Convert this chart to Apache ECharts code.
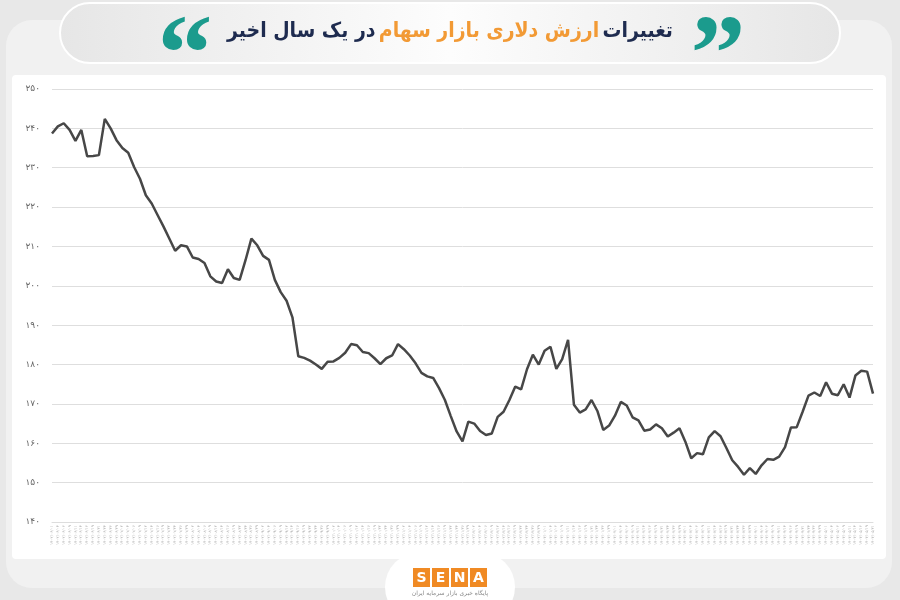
<!DOCTYPE html>
<html>
<head>
<meta charset="utf-8">
<script src="https://cdn.jsdelivr.net/npm/echarts@6/dist/echarts.min.js"></script>
<style>html,body{margin:0;padding:0;background:#e8e8e8;}#c{width:900px;height:600px;}</style>
</head>
<body>
<div id="c"></div>
<script>
var titleParts = ['در یک سال اخیر', 'ارزش دلاری بازار سهام', 'تغییرات'];
var yTicks = [140, 150, 160, 170, 180, 190, 200, 210, 220, 230, 240, 250];
var dates = [
'1402/06/01','1402/06/04','1402/06/06','1402/06/09','1402/06/11','1402/06/14','1402/06/16','1402/06/19','1402/06/21','1402/06/24','1402/06/26','1402/06/29',
'1402/07/02','1402/07/04','1402/07/07','1402/07/09','1402/07/12','1402/07/14','1402/07/17','1402/07/19','1402/07/22','1402/07/24','1402/07/27','1402/07/29',
'1402/08/02','1402/08/04','1402/08/07','1402/08/09','1402/08/12','1402/08/14','1402/08/17','1402/08/19','1402/08/22','1402/08/24','1402/08/27','1402/08/29',
'1402/09/02','1402/09/04','1402/09/07','1402/09/09','1402/09/12','1402/09/14','1402/09/17','1402/09/19','1402/09/22','1402/09/24','1402/09/27','1402/09/29',
'1402/10/02','1402/10/04','1402/10/07','1402/10/09','1402/10/12','1402/10/14','1402/10/17','1402/10/19','1402/10/22','1402/10/24','1402/10/27','1402/10/29',
'1402/11/02','1402/11/04','1402/11/07','1402/11/09','1402/11/12','1402/11/14','1402/11/17','1402/11/19','1402/11/22','1402/11/24','1402/11/27','1402/11/29',
'1402/12/02','1402/12/04','1402/12/07','1402/12/09','1402/12/12','1402/12/14','1402/12/17','1402/12/19','1402/12/22','1402/12/24','1402/12/27','1402/12/29',
'1403/01/01','1403/01/04','1403/01/06','1403/01/09','1403/01/11','1403/01/14','1403/01/16','1403/01/19','1403/01/21','1403/01/24','1403/01/26','1403/01/29',
'1403/02/01','1403/02/04','1403/02/06','1403/02/09','1403/02/11','1403/02/14','1403/02/16','1403/02/19','1403/02/21','1403/02/24','1403/02/26','1403/02/29',
'1403/03/01','1403/03/04','1403/03/06','1403/03/09','1403/03/11','1403/03/14','1403/03/16','1403/03/19','1403/03/21','1403/03/24','1403/03/26','1403/03/29',
'1403/04/01','1403/04/04','1403/04/06','1403/04/09','1403/04/11','1403/04/14','1403/04/16','1403/04/19','1403/04/21','1403/04/24','1403/04/26','1403/04/29',
'1403/05/01','1403/05/04','1403/05/06','1403/05/09','1403/05/11','1403/05/14','1403/05/16','1403/05/19','1403/05/21'
];
var values = [
238.7,240.5,241.3,239.6,236.8,239.6,232.9,233.0,233.2,242.4,
240.0,237.0,235.0,233.8,230.2,227.2,223.0,220.9,218.0,215.1,
212.0,208.9,210.3,210.0,207.2,206.8,205.8,202.4,201.1,200.7,
204.2,202.0,201.5,206.5,212.0,210.3,207.6,206.6,201.5,198.4,
196.2,192.0,182.1,181.7,181.0,180.0,178.9,180.7,180.8,181.7,
183.0,185.2,184.9,183.2,182.9,181.6,180.1,181.6,182.3,185.2,
183.9,182.3,180.3,177.9,177.0,176.6,174.0,171.0,166.9,163.0,
160.5,165.5,165.0,163.1,162.1,162.5,166.7,168.0,171.0,174.4,
173.7,178.8,182.5,180.0,183.5,184.5,178.9,181.4,186.3,169.8,
167.8,168.6,171.0,168.2,163.4,164.5,167.0,170.5,169.6,166.6,
165.8,163.2,163.5,164.8,163.8,161.7,162.7,163.8,160.4,156.2,
157.5,157.2,161.5,163.1,161.8,158.8,155.7,154.0,152.0,153.7,
152.2,154.4,156.0,155.8,156.6,159.0,164.0,164.1,168.0,172.1,
172.9,172.0,175.5,172.6,172.2,175.0,171.6,177.2,178.4,178.2,
172.6
];

var fa = '۰۱۲۳۴۵۶۷۸۹';
function toFa(s) { return String(s).replace(/[0-9]/g, function (d) { return fa[+d]; }); }

var chart = echarts.init(document.getElementById('c'));
var font = '"DejaVu Sans", sans-serif';
var tfont = '"DejaVu Sans Condensed", "DejaVu Sans", sans-serif';
var qfont = '"Liberation Serif", "DejaVu Serif", serif';
chart.setOption({
  backgroundColor: '#e8e8e8',
  animation: false,
  graphic: [
    { type: 'rect', z: -20, silent: true, shape: { x: 6, y: 20, width: 886, height: 568, r: 26 }, style: { fill: '#f1f1f1' } },
    { type: 'rect', z: -19, silent: true, shape: { x: 12, y: 75, width: 874, height: 484, r: 4 }, style: { fill: '#ffffff' } },
    { type: 'rect', z: -18, silent: true, shape: { x: 60, y: 3, width: 780, height: 60, r: 30 },
      style: { fill: new echarts.graphic.LinearGradient(0, 0, 1, 0, [
        { offset: 0, color: '#e6e6e6' }, { offset: 0.5, color: '#fdfdfd' }, { offset: 1, color: '#e6e6e6' }]),
        stroke: '#ffffff', lineWidth: 2 } },
    { type: 'text', z: 10, silent: true, x: 450, y: 32,
      style: { text: '{a|' + titleParts[0] + '} {b|' + titleParts[1] + '} {a|' + titleParts[2] + '}',
        align: 'center', verticalAlign: 'middle',
        rich: {
          a: { fontFamily: tfont, fontWeight: 'bold', fontSize: 21, fill: '#1e2b4f' },
          b: { fontFamily: tfont, fontWeight: 'bold', fontSize: 21, fill: '#f29a35' }
        } } },
    { type: 'text', z: 10, silent: true, x: 185, y: 62,
      style: { text: '\u201C', fontFamily: qfont, fontWeight: 'bold', fontSize: 110, fill: '#1b9b8d', align: 'center', verticalAlign: 'middle' } },
    { type: 'text', z: 10, silent: true, x: 718, y: 62,
      style: { text: '\u201D', fontFamily: qfont, fontWeight: 'bold', fontSize: 110, fill: '#1b9b8d', align: 'center', verticalAlign: 'middle' } },
    { type: 'rect', z: -17, silent: true, shape: { x: 385, y: 552, width: 130, height: 70, r: 35 }, style: { fill: '#ffffff' } },
    { type: 'rect', z: 10, silent: true, shape: { x: 413, y: 568, width: 17, height: 19 }, style: { fill: '#f08a24' } },
    { type: 'rect', z: 10, silent: true, shape: { x: 432, y: 568, width: 17, height: 19 }, style: { fill: '#f08a24' } },
    { type: 'rect', z: 10, silent: true, shape: { x: 451, y: 568, width: 17, height: 19 }, style: { fill: '#f08a24' } },
    { type: 'rect', z: 10, silent: true, shape: { x: 470, y: 568, width: 17, height: 19 }, style: { fill: '#f08a24' } },
    { type: 'text', z: 11, silent: true, x: 421.5, y: 578, style: { text: 'S', fontFamily: font, fontWeight: 'bold', fontSize: 14, fill: '#fff', align: 'center', verticalAlign: 'middle' } },
    { type: 'text', z: 11, silent: true, x: 440.5, y: 578, style: { text: 'E', fontFamily: font, fontWeight: 'bold', fontSize: 14, fill: '#fff', align: 'center', verticalAlign: 'middle' } },
    { type: 'text', z: 11, silent: true, x: 459.5, y: 578, style: { text: 'N', fontFamily: font, fontWeight: 'bold', fontSize: 14, fill: '#fff', align: 'center', verticalAlign: 'middle' } },
    { type: 'text', z: 11, silent: true, x: 478.5, y: 578, style: { text: 'A', fontFamily: font, fontWeight: 'bold', fontSize: 14, fill: '#fff', align: 'center', verticalAlign: 'middle' } },
    { type: 'text', z: 11, silent: true, x: 450, y: 593, style: { text: 'پایگاه خبری بازار سرمایه ایران', fontFamily: font, fontSize: 6, fill: '#888', align: 'center', verticalAlign: 'middle' } }
  ],
  grid: { left: 52, right: 27, top: 89, bottom: 78, containLabel: false },
  xAxis: {
    type: 'category',
    data: dates,
    boundaryGap: false,
    axisLine: { show: true, lineStyle: { color: '#dddddd' } },
    axisTick: { show: false },
    axisLabel: { interval: 0, rotate: 90, fontSize: 4, color: '#aaaaaa', margin: 3, fontFamily: font,
      formatter: function (v) { return toFa(v); } },
    splitLine: { show: false }
  },
  yAxis: {
    type: 'value',
    min: yTicks[0], max: yTicks[yTicks.length - 1], interval: 10,
    axisLine: { show: false },
    axisTick: { show: false },
    axisLabel: { fontSize: 9, color: '#666666', margin: 12, fontFamily: font,
      formatter: function (v) { return toFa(v); } },
    splitLine: { lineStyle: { color: '#dedede', width: 1 } }
  },
  series: [{
    type: 'line',
    data: values,
    showSymbol: false,
    symbol: 'none',
    lineStyle: { color: '#474747', width: 2.5 },
    z: 5
  }]
});
</script>
</body>
</html>
